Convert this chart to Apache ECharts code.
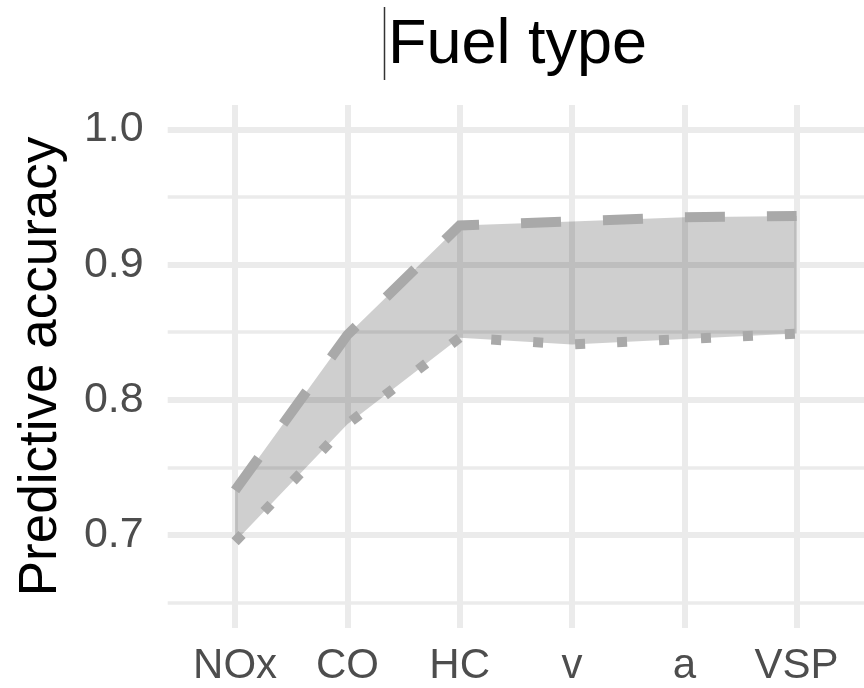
<!DOCTYPE html>
<html>
<head>
<meta charset="utf-8">
<script src="https://cdn.jsdelivr.net/npm/echarts@6/dist/echarts.min.js"></script>
<style>html,body{margin:0;padding:0;background:#fff}#c{width:864px;height:688px}</style>
</head>
<body>
<div id="c"></div>
<script>
var categories = ['NOx', 'CO', 'HC', 'v', 'a', 'VSP'];
var upperValues = [0.733, 0.848, 0.929, 0.932, 0.935, 0.936];
var lowerValues = [0.695, 0.782, 0.846, 0.841, 0.845, 0.849];
var yMajorTicks = [0.7, 0.8, 0.9, 1.0];
var yMinorTicks = [0.65, 0.75, 0.85, 0.95];
var titleText = 'Fuel type';
var yAxisTitle = 'Predictive accuracy';

var idx = categories.map(function (c, i) { return i; });
var lowerData = lowerValues.map(function (v, i) { return [i, v]; });
var upperData = upperValues.map(function (v, i) { return [i, v]; });
var bandData = upperValues.map(function (v, i) { return [i, lowerValues[i], v]; });

var FONT = '"Liberation Sans", Arial, sans-serif';
var chart = echarts.init(document.getElementById('c'), null, { renderer: 'canvas' });
chart.setOption({
  backgroundColor: '#ffffff',
  animation: false,
  title: {
    text: titleText,
    left: 383,
    top: 9,
    textStyle: { fontFamily: FONT, fontSize: 63, fontWeight: 'normal', color: '#000000' }
  },
  graphic: [{
    type: 'line',
    shape: { x1: 384.5, y1: 7, x2: 384.5, y2: 80 },
    style: { stroke: '#333333', lineWidth: 1.5 }
  }],
  grid: { left: 167.7, top: 105, bottom: 60, width: 697, containLabel: false },
  xAxis: [{
    type: 'value',
    min: -0.6,
    max: 5.6,
    axisLine: { show: false },
    axisTick: { show: false, customValues: idx },
    axisLabel: {
      customValues: idx,
      margin: 17,
      fontFamily: FONT,
      fontSize: 42,
      color: '#4d4d4d',
      formatter: function (v) { return categories[Math.round(v)]; }
    },
    splitLine: { show: true, lineStyle: { color: '#ebebeb', width: 6 } }
  }],
  yAxis: [{
    type: 'value',
    min: 0.6312,
    max: 1.0181,
    position: 'left',
    name: yAxisTitle,
    nameLocation: 'middle',
    nameGap: 100,
    nameRotate: 90,
    nameTextStyle: { fontFamily: FONT, fontSize: 53, color: '#000000' },
    axisLine: { show: false },
    axisTick: { show: false, customValues: yMajorTicks },
    axisLabel: {
      customValues: yMajorTicks,
      margin: 24,
      fontFamily: FONT,
      fontSize: 43,
      color: '#4d4d4d',
      formatter: function (v) { return v.toFixed(1); }
    },
    splitLine: { show: true, lineStyle: { color: '#ebebeb', width: 6 } }
  }, {
    type: 'value',
    min: 0.6312,
    max: 1.0181,
    position: 'left',
    axisLine: { show: false },
    axisTick: { show: false, customValues: yMinorTicks },
    axisLabel: { show: false, customValues: yMinorTicks },
    splitLine: { show: true, lineStyle: { color: '#ebebeb', width: 3.5 } }
  }],
  series: [{
    type: 'custom',
    name: 'band',
    data: bandData,
    silent: true,
    z: 2,
    clip: true,
    renderItem: function (params, api) {
      if (params.dataIndex !== 0) { return null; }
      var pts = [];
      var i;
      for (i = 0; i < bandData.length; i++) {
        pts.push(api.coord([bandData[i][0], bandData[i][2]]));
      }
      for (i = bandData.length - 1; i >= 0; i--) {
        pts.push(api.coord([bandData[i][0], bandData[i][1]]));
      }
      return {
        type: 'polygon',
        shape: { points: pts },
        style: { fill: 'rgba(0,0,0,0.19)', stroke: null }
      };
    }
  }, {
    type: 'line',
    name: 'upper',
    data: upperData,
    symbol: 'none',
    lineStyle: { color: '#a9a9a9', width: 10, type: [40, 42], cap: 'butt', join: 'miter' },
    z: 3
  }, {
    type: 'line',
    name: 'lower',
    data: lowerData,
    symbol: 'none',
    lineStyle: { color: '#a9a9a9', width: 10, type: [10, 32], cap: 'butt', join: 'miter' },
    z: 3
  }]
});
</script>
</body>
</html>
